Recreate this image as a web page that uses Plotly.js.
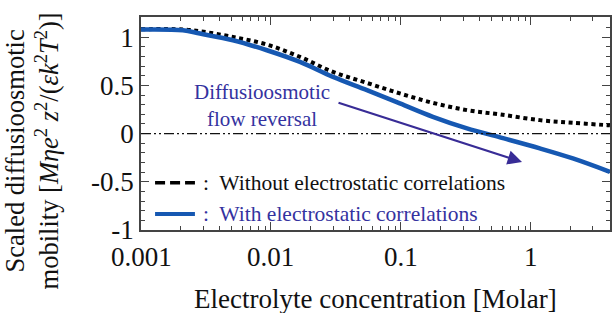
<!DOCTYPE html>
<html>
<head>
<meta charset="utf-8">
<script src="https://cdn.plot.ly/plotly-3.0.1.min.js"></script>
<style>
html,body{margin:0;padding:0;background:#fff;}
#wrap{position:relative;width:613px;height:313px;}
#wrap > div{position:absolute;left:0;top:0;width:613px;height:313px;}
</style>
</head>
<body>
<div id="wrap">
  <div id="axesLayer"></div>
  <div id="minorLayer"></div>
  <div id="dataLayer"></div>
</div>
<script>
// Electrolyte concentration [Molar]
const concBlack = [0.001, 0.0021, 0.00284, 0.0051, 0.0093, 0.0167, 0.030, 0.0547, 0.098, 0.176, 0.322, 0.578, 1.17, 2.1, 3.85, 4.05];
const withoutCorr = [1.083, 1.081, 1.062, 1.003, 0.924, 0.796, 0.64, 0.526, 0.417, 0.319, 0.244, 0.199, 0.14, 0.112, 0.088, 0.086];
const concBlue = [0.001, 0.0021, 0.00284, 0.0051, 0.0093, 0.0167, 0.030, 0.0547, 0.098, 0.176, 0.322, 0.578, 1.17, 2.1, 4.05];
const withCorr = [1.08, 1.072, 1.038, 0.969, 0.865, 0.744, 0.589, 0.451, 0.313, 0.174, 0.054, -0.039, -0.153, -0.257, -0.396];

const xTickVals = [0.001, 0.01, 0.1, 1];
const xTickText = ['0.001', '0.01', '0.1', '1'];
const xMinorVals = [0.002, 0.003, 0.004, 0.005, 0.006, 0.007, 0.008, 0.009,
                    0.02, 0.03, 0.04, 0.05, 0.06, 0.07, 0.08, 0.09,
                    0.2, 0.3, 0.4, 0.5, 0.6, 0.7, 0.8, 0.9,
                    2, 3, 4];
const yTickVals = [-1, -0.5, 0, 0.5, 1];
const yTickText = ['-1', '-0.5', '0', '0.5', '1'];

const legendLabels = ['Without electrostatic correlations', 'With electrostatic correlations'];
const arrowNote = 'Diffusioosmotic<br>flow reversal';
const xTitle = 'Electrolyte concentration [Molar]';
const yTitle = 'Scaled diffusioosmotic<br>mobility [<i>Mηe</i><sup>2</sup><i> z</i><sup>2</sup>/(<i>εk</i><sup>2</sup><i>T</i><sup>2</sup>)]';

const serif = 'Liberation Serif, Times New Roman, serif';
const blue = 'rgb(22,88,178)';
const textBlue = 'rgb(52,50,160)';
const arrowBlue = 'rgb(56,44,150)';
const xRange = [-3, 0.608];
const yRange = [-1, 1.21];
const margin = {l: 141, r: 3, t: 17, b: 83};
const cfg = {displayModeBar: false};

// Layer 1: frame, major ticks and y tick labels
const ghost = {x: concBlue, y: withCorr, type: 'scatter', mode: 'lines', opacity: 0, hoverinfo: 'skip'};
Plotly.newPlot('axesLayer', [ghost], {
  width: 613, height: 313, margin: margin,
  paper_bgcolor: '#fff', plot_bgcolor: '#fff', showlegend: false,
  xaxis: {type: 'log', range: xRange, showline: true, linecolor: '#444', linewidth: 1.5, mirror: 'ticks',
          ticks: 'inside', ticklen: 8, tickcolor: '#444', showgrid: false, zeroline: false,
          tickmode: 'array', tickvals: xTickVals, ticktext: xTickText, showticklabels: false},
  yaxis: {range: yRange, showline: true, linecolor: '#444', linewidth: 1.5, mirror: 'ticks',
          ticks: 'inside', ticklen: 8, tickcolor: '#444', showgrid: false, zeroline: false,
          tickmode: 'array', tickvals: yTickVals, ticktext: yTickText,
          tickfont: {family: serif, size: 27, color: '#111'}}
}, cfg);

// Layer 2: minor ticks
Plotly.newPlot('minorLayer', [ghost], {
  width: 613, height: 313, margin: margin,
  paper_bgcolor: 'rgba(0,0,0,0)', plot_bgcolor: 'rgba(0,0,0,0)', showlegend: false,
  xaxis: {type: 'log', range: xRange, showline: false, mirror: 'ticks', ticks: 'inside', ticklen: 4, tickcolor: '#444',
          showgrid: false, zeroline: false, tickmode: 'array', tickvals: xMinorVals, showticklabels: false},
  yaxis: {range: yRange, showline: false, mirror: 'ticks', ticks: 'inside', ticklen: 4, tickcolor: '#444',
          showgrid: false, zeroline: false, tickmode: 'linear', tick0: -1, dtick: 0.1, showticklabels: false}
}, cfg);

// Layer 3: curves, reference line, legend, annotations
const traces = [
  {x: concBlack, y: withoutCorr, type: 'scatter', mode: 'lines', line: {color: '#000', width: 4, dash: '4px,3.6px', shape: 'spline'}, hoverinfo: 'skip'},
  {x: concBlue, y: withCorr, type: 'scatter', mode: 'lines', line: {color: blue, width: 4.5, shape: 'spline'}, hoverinfo: 'skip'}
];
const tickAnns = xTickVals.map(function(v, i) {
  return {xref: 'x', yref: 'paper', x: Math.log10(v), y: -0.128, xanchor: 'center', yanchor: 'middle', showarrow: false,
          text: xTickText[i], font: {family: serif, size: 27, color: '#111'}};
});
Plotly.newPlot('dataLayer', traces, {
  width: 613, height: 313, margin: margin,
  paper_bgcolor: 'rgba(0,0,0,0)', plot_bgcolor: 'rgba(0,0,0,0)', showlegend: false,
  xaxis: {type: 'log', range: xRange, visible: false},
  yaxis: {range: yRange, visible: false},
  shapes: [
    {type: 'line', xref: 'paper', x0: 0, x1: 1, yref: 'y', y0: 0, y1: 0, line: {color: '#111', width: 1.2, dash: '10px,3px,2px,3px,2px,3px'}},
    {type: 'line', xref: 'paper', yref: 'paper', x0: 0.03, x1: 0.115, y0: 0.222, y1: 0.222, line: {color: '#000', width: 3.5, dash: '10px,5px'}},
    {type: 'line', xref: 'paper', yref: 'paper', x0: 0.03, x1: 0.115, y0: 0.075, y1: 0.075, line: {color: blue, width: 4}}
  ],
  annotations: tickAnns.concat([
    {xref: 'paper', yref: 'paper', x: -0.232, y: 0.37, xanchor: 'center', yanchor: 'middle', textangle: -90, showarrow: false,
     text: yTitle, font: {family: serif, size: 26.5, color: '#111'}},
    {xref: 'paper', yref: 'paper', x: 0.5, y: -0.322, xanchor: 'center', yanchor: 'middle', showarrow: false,
     text: xTitle, font: {family: serif, size: 27, color: '#111'}},
    {xref: 'paper', yref: 'paper', x: 0.128, y: 0.222, xanchor: 'left', yanchor: 'middle', showarrow: false,
     text: ':  ' + legendLabels[0], font: {family: serif, size: 21.5, color: '#111'}},
    {xref: 'paper', yref: 'paper', x: 0.128, y: 0.075, xanchor: 'left', yanchor: 'middle', showarrow: false,
     text: ':  ' + legendLabels[1], font: {family: serif, size: 21.5, color: textBlue}},
    {xref: 'paper', yref: 'paper', x: 0.257, y: 0.583, xanchor: 'center', yanchor: 'middle', showarrow: false,
     text: arrowNote, font: {family: serif, size: 21, color: textBlue}},
    {xref: 'x', yref: 'y', x: -0.069, y: -0.295, axref: 'x', ayref: 'y', ax: -1.492, ay: 0.326,
     showarrow: true, arrowhead: 2, arrowsize: 1.3, arrowwidth: 2.2, arrowcolor: arrowBlue, text: ''}
  ])
}, cfg);
</script>
</body>
</html>
